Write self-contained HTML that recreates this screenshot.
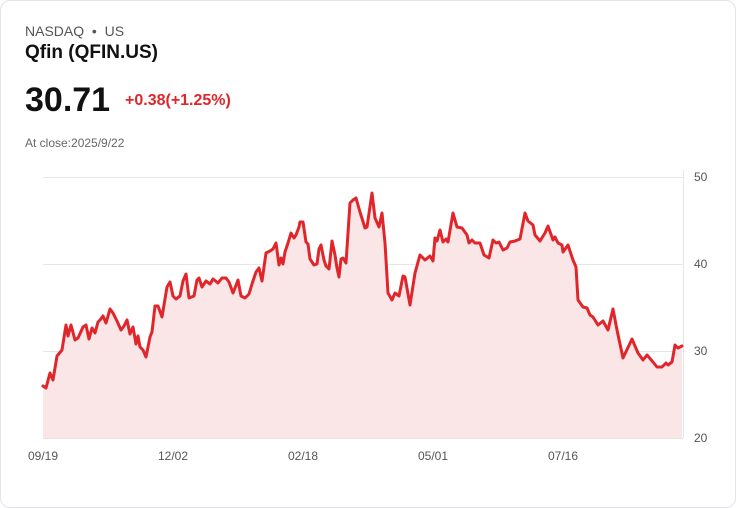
<!DOCTYPE html>
<html><head><meta charset="utf-8"><style>
body{margin:0;background:#fff;font-family:"Liberation Sans",sans-serif;}
.card{position:absolute;left:0;top:0;width:734px;height:506px;border:1px solid #e3e3e8;border-radius:10px;background:#fff;}
.t{position:absolute;white-space:nowrap;}
</style></head><body>
<div class="card"></div>
<div class="t" style="left:25px;top:23px;font-size:14px;color:#555;">NASDAQ &nbsp;•&nbsp; US</div>
<div class="t" style="left:25px;top:42px;font-size:19px;font-weight:bold;color:#111;">Qfin (QFIN.US)</div>
<div class="t" style="left:25px;top:81px;font-size:34px;font-weight:bold;color:#111;">30.71</div>
<div class="t" style="left:125px;top:92px;font-size:16px;font-weight:bold;color:#e0262a;">+0.38(+1.25%)</div>
<div class="t" style="left:25px;top:136px;font-size:12px;color:#666;">At close:2025/9/22</div>
<svg width="736" height="508" style="position:absolute;left:0;top:0">
<g stroke="#e6e6e6" stroke-width="1">
<line x1="43" y1="177.5" x2="683" y2="177.5"/><line x1="43" y1="264.5" x2="683" y2="264.5"/><line x1="43" y1="351.5" x2="683" y2="351.5"/><line x1="43" y1="438.5" x2="683" y2="438.5"/><line x1="683.5" y1="170" x2="683.5" y2="438"/>
</g>
<g font-size="12" fill="#555" font-family="Liberation Sans,sans-serif">
<text x="694" y="181">50</text><text x="694" y="268">40</text><text x="694" y="355">30</text><text x="694" y="442">20</text>
<text x="28" y="460">09/19</text><text x="158" y="460">12/02</text><text x="288" y="460">02/18</text><text x="418" y="460">05/01</text><text x="548" y="460">07/16</text>
</g>
<path fill="#fbe6e7" stroke="none" d="M43,438 L43,386 46,388 50,373 53,380 57,356 62,350 66,325 68,336 71,325 75,340 78,338 83,327 86,325 89,339 92,328 95,333 98,322 100,320 103,316 106,323 110,309 113,313 117,321 121,330 124,326 127,320 130,334 133,327 136,344 138,336 140,347 143,350 146,357 150,337 152,332 155,306 158,306 162,317 167,287 170,282 173,296 176,299 180,296 183,281 186,274 189,298 194,296 197,280 199,278 202,287 206,281 210,284 213,279 218,283 222,278 226,278 229,282 233,293 235,288 238,280 241,296 245,298 249,294 252,284 256,272 259,268 262,281 266,253 270,251 273,249 276,243 279,265 281,258 283,264 285,252 288,243 291,233 294,238 296,235 299,227 300,222 303,222 306,242 308,244 310,259 314,265 317,264 319,249 321,245 324,260 326,266 329,269 330,260 332,241 335,255 337,268 339,277 341,259 343,258 346,263 350,203 353,200 356,198 360,212 365,228 367,227 372,193 375,218 379,227 382,213 385,243 388,293 392,300 395,293 399,296 403,276 405,277 410,305 415,273 420,255 425,260 430,256 433,261 435,238 437,241 440,230 443,242 446,239 448,242 453,213 457,227 462,228 467,235 469,243 472,240 475,243 480,243 484,255 489,258 493,240 496,243 499,242 503,250 507,248 510,242 515,241 520,239 525,213 528,221 533,225 535,235 540,241 545,233 548,226 553,240 555,237 558,243 562,245 563,252 568,245 573,260 576,267 578,300 583,307 587,308 590,315 593,317 598,325 603,321 608,330 613,309 617,330 623,358 632,339 638,353 643,360 647,355 653,362 657,367 662,367 666,363 668,365 672,362 675,345 678,348 682,346 L682,438 Z"/>
<polyline fill="none" stroke="#e0262a" stroke-width="3" stroke-linejoin="round" stroke-linecap="round" points="43,386 46,388 50,373 53,380 57,356 62,350 66,325 68,336 71,325 75,340 78,338 83,327 86,325 89,339 92,328 95,333 98,322 100,320 103,316 106,323 110,309 113,313 117,321 121,330 124,326 127,320 130,334 133,327 136,344 138,336 140,347 143,350 146,357 150,337 152,332 155,306 158,306 162,317 167,287 170,282 173,296 176,299 180,296 183,281 186,274 189,298 194,296 197,280 199,278 202,287 206,281 210,284 213,279 218,283 222,278 226,278 229,282 233,293 235,288 238,280 241,296 245,298 249,294 252,284 256,272 259,268 262,281 266,253 270,251 273,249 276,243 279,265 281,258 283,264 285,252 288,243 291,233 294,238 296,235 299,227 300,222 303,222 306,242 308,244 310,259 314,265 317,264 319,249 321,245 324,260 326,266 329,269 330,260 332,241 335,255 337,268 339,277 341,259 343,258 346,263 350,203 353,200 356,198 360,212 365,228 367,227 372,193 375,218 379,227 382,213 385,243 388,293 392,300 395,293 399,296 403,276 405,277 410,305 415,273 420,255 425,260 430,256 433,261 435,238 437,241 440,230 443,242 446,239 448,242 453,213 457,227 462,228 467,235 469,243 472,240 475,243 480,243 484,255 489,258 493,240 496,243 499,242 503,250 507,248 510,242 515,241 520,239 525,213 528,221 533,225 535,235 540,241 545,233 548,226 553,240 555,237 558,243 562,245 563,252 568,245 573,260 576,267 578,300 583,307 587,308 590,315 593,317 598,325 603,321 608,330 613,309 617,330 623,358 632,339 638,353 643,360 647,355 653,362 657,367 662,367 666,363 668,365 672,362 675,345 678,348 682,346"/>
</svg>
</body></html>
